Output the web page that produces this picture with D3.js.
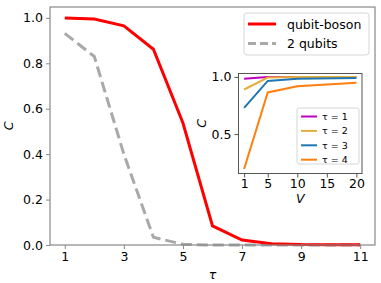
<!DOCTYPE html>
<html lang="en">
<head>
<meta charset="UTF-8" />
<script src="https://cdnjs.cloudflare.com/ajax/libs/d3/7.8.5/d3.min.js"></script>
<style>
  body { margin: 0; background: #fff; }
  svg { display: block; font-family: "DejaVu Sans", sans-serif; }
</style>
</head>
<body>
<svg id="chart" width="381" height="283"></svg>
<script>
// main panel data
const tau = [1, 2, 3, 4, 5, 6, 7, 8, 9, 10, 11];
const qubitBoson = [1.0, 0.995, 0.965, 0.862, 0.537, 0.084, 0.022, 0.006, 0.002, 0.001, 0.001];
const twoQubits = [0.932, 0.83, 0.40, 0.034, 0.003, 0.0, 0.0, 0.0, 0.0, 0.0, 0.0];
const mainXTicks = [1, 3, 5, 7, 9, 11];
const mainYTicks = [0.0, 0.2, 0.4, 0.6, 0.8, 1.0];

// inset data
const V = [1, 5, 10, 20];
const insetSeries = [
  { name: 'τ = 1', values: [0.983, 1.0, 1.0, 1.0], color: '#c000c0' },
  { name: 'τ = 2', values: [0.89, 0.995, 0.999, 1.0], color: '#e5ae3c' },
  { name: 'τ = 3', values: [0.73, 0.965, 0.985, 0.99], color: '#1f77b4' },
  { name: 'τ = 4', values: [0.195, 0.864, 0.919, 0.948], color: '#ff7f0e' }
];
const insetXTicks = [1, 5, 10, 15, 20];
const insetYTicks = [0.5, 1.0];

const svg = d3.select('#chart');
const spineColor = '#888';
const fs = 12.5;

// ---- main axes
const m = { left: 50, right: 375, top: 7, bottom: 245 };
const x = d3.scaleLinear().domain([0.5, 11.5]).range([m.left, m.right]);
const y = d3.scaleLinear().domain([0, 1.048]).range([m.bottom, m.top]);

const main = svg.append('g');

const line = d3.line().x((d, i) => x(tau[i])).y(d => y(d));

main.append('path')
  .attr('d', line(twoQubits))
  .attr('fill', 'none')
  .attr('stroke', '#a9a9a9')
  .attr('stroke-width', 3)
  .attr('stroke-dasharray', '11,5');

main.append('path')
  .attr('d', line(qubitBoson))
  .attr('fill', 'none')
  .attr('stroke', '#ff0000')
  .attr('stroke-width', 3);

const xAxis = main.append('g')
  .attr('transform', `translate(0,${m.bottom})`)
  .call(d3.axisBottom(x).tickValues(mainXTicks).tickSize(4).tickPadding(3).tickFormat(d3.format('d')));
const yAxis = main.append('g')
  .attr('transform', `translate(${m.left},0)`)
  .call(d3.axisLeft(y).tickValues(mainYTicks).tickSize(4).tickPadding(3).tickFormat(d3.format('.1f')));

[xAxis, yAxis].forEach(a => {
  a.select('.domain').remove();
  a.selectAll('.tick line').attr('stroke', spineColor);
  a.selectAll('.tick text').attr('font-size', fs).attr('fill', '#000').attr('font-family', '"DejaVu Sans"');
});

main.append('rect')
  .attr('x', m.left).attr('y', m.top)
  .attr('width', m.right - m.left).attr('height', m.bottom - m.top)
  .attr('fill', 'none').attr('stroke', spineColor).attr('stroke-width', 1.2);

main.append('text')
  .attr('x', (m.left + m.right) / 2).attr('y', 279)
  .attr('text-anchor', 'middle').attr('font-size', fs).attr('font-style', 'italic')
  .text('τ');
main.append('text')
  .attr('transform', `translate(13,${(m.top + m.bottom) / 2}) rotate(-90)`)
  .attr('text-anchor', 'middle').attr('font-size', fs).attr('font-style', 'italic')
  .text('C');

// main legend
const legend = main.append('g').attr('transform', 'translate(244,13)');
legend.append('rect')
  .attr('width', 125).attr('height', 42).attr('rx', 3)
  .attr('fill', '#fff').attr('fill-opacity', 0.8)
  .attr('stroke', '#d6d6d6');
const legItems = [
  { name: 'qubit-boson', color: '#ff0000', dash: null },
  { name: '2 qubits', color: '#a9a9a9', dash: '8,4' }
];
legItems.forEach((d, i) => {
  const yy = 11 + i * 19.5;
  legend.append('line')
    .attr('x1', 4).attr('x2', 32).attr('y1', yy).attr('y2', yy)
    .attr('stroke', d.color).attr('stroke-width', 3)
    .attr('stroke-dasharray', d.dash);
  legend.append('text')
    .attr('x', 43).attr('y', yy + 4.5)
    .attr('font-size', fs).text(d.name);
});

// ---- inset axes
const n = { left: 238.5, right: 362, top: 73.5, bottom: 173.5 };
const xi = d3.scaleLinear().domain([0.05, 20.95]).range([n.left, n.right]);
const yi = d3.scaleLinear().domain([0.155, 1.03]).range([n.bottom, n.top]);

const inset = svg.append('g');
inset.append('rect')
  .attr('x', n.left).attr('y', n.top)
  .attr('width', n.right - n.left).attr('height', n.bottom - n.top)
  .attr('fill', '#fff');

const lineI = d3.line().x((d, i) => xi(V[i])).y(d => yi(d));
insetSeries.forEach(s => {
  inset.append('path')
    .attr('d', lineI(s.values))
    .attr('fill', 'none')
    .attr('stroke', s.color)
    .attr('stroke-width', 2);
});

const xAxisI = inset.append('g')
  .attr('transform', `translate(0,${n.bottom})`)
  .call(d3.axisBottom(xi).tickValues(insetXTicks).tickSize(4).tickPadding(2).tickFormat(d3.format('d')));
const yAxisI = inset.append('g')
  .attr('transform', `translate(${n.left},0)`)
  .call(d3.axisLeft(yi).tickValues(insetYTicks).tickSize(4).tickPadding(3).tickFormat(d3.format('.1f')));
[xAxisI, yAxisI].forEach(a => {
  a.select('.domain').remove();
  a.selectAll('.tick line').attr('stroke', '#555');
  a.selectAll('.tick text').attr('font-size', fs).attr('fill', '#000').attr('font-family', '"DejaVu Sans"');
});

inset.append('rect')
  .attr('x', n.left).attr('y', n.top)
  .attr('width', n.right - n.left).attr('height', n.bottom - n.top)
  .attr('fill', 'none').attr('stroke', '#555').attr('stroke-width', 1);

inset.append('text')
  .attr('x', (n.left + n.right) / 2).attr('y', 203)
  .attr('text-anchor', 'middle').attr('font-size', fs).attr('font-style', 'italic')
  .text('V');
inset.append('text')
  .attr('transform', `translate(206,${(n.top + n.bottom) / 2}) rotate(-90)`)
  .attr('text-anchor', 'middle').attr('font-size', fs).attr('font-style', 'italic')
  .text('C');

// inset legend
const legI = inset.append('g').attr('transform', 'translate(297,108)');
legI.append('rect')
  .attr('width', 62).attr('height', 56).attr('rx', 2)
  .attr('fill', '#fff').attr('fill-opacity', 0.8)
  .attr('stroke', '#d6d6d6');
insetSeries.forEach((s, i) => {
  const yy = 8.5 + i * 14.4;
  legI.append('line')
    .attr('x1', 4).attr('x2', 20).attr('y1', yy).attr('y2', yy)
    .attr('stroke', s.color).attr('stroke-width', 2);
  legI.append('text')
    .attr('x', 25).attr('y', yy + 3.5)
    .attr('font-size', 9.5).text(s.name);
});
</script>
</body>
</html>
